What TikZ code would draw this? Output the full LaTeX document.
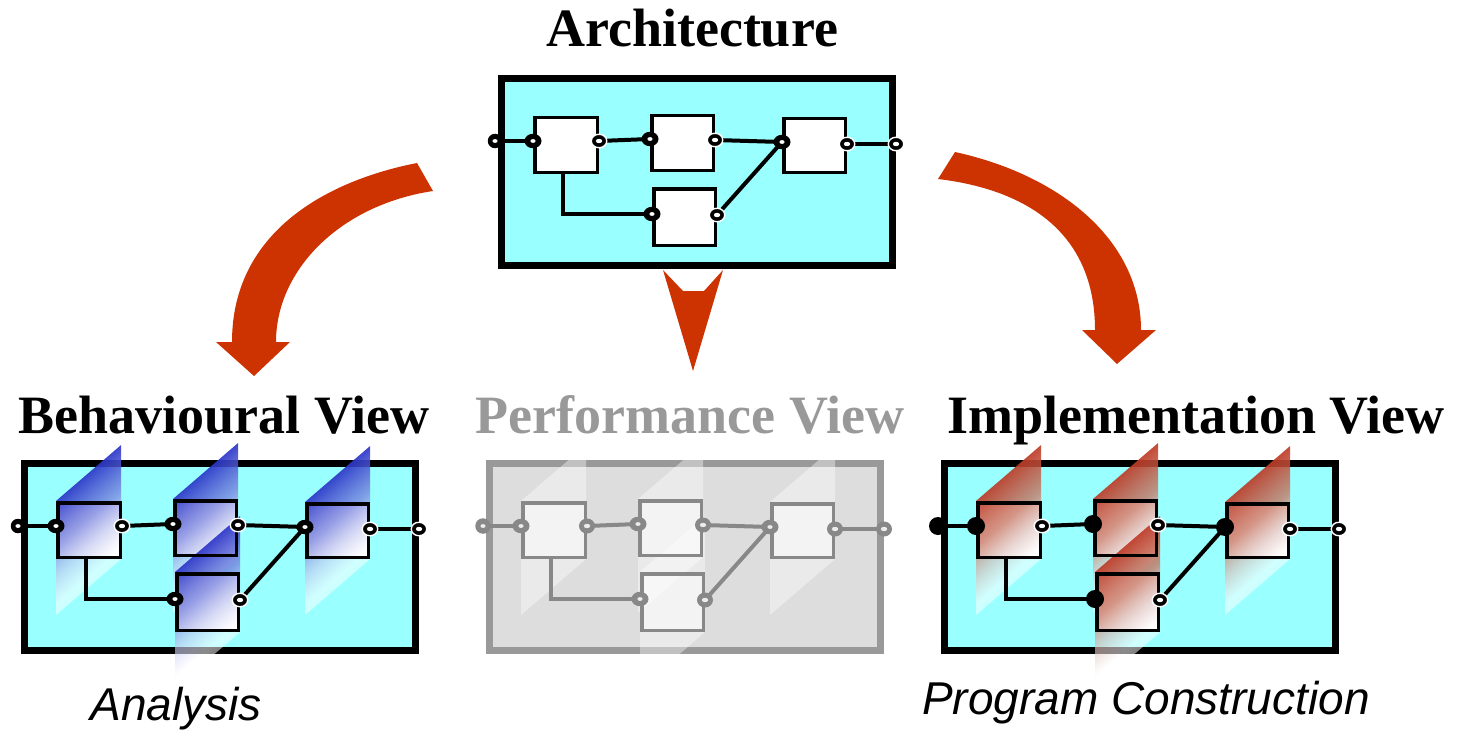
\documentclass[tikz,border=0pt]{standalone}
\usepackage{fontspec}
\setmainfont{Liberation Serif}
\newfontfamily\arialf{Liberation Sans}
\usetikzlibrary{shapes.geometric,fadings}
\pgfdeclarelayer{bg}
\pgfdeclarelayer{planes}
\pgfdeclarelayer{front}
\pgfsetlayers{bg,planes,main,front}
\definecolor{cyanfill}{RGB}{153,255,255}
\definecolor{arrowred}{RGB}{204,51,0}
\definecolor{bluetop}{RGB}{45,55,200}
\definecolor{bluemid}{RGB}{120,130,222}
\definecolor{bluelight}{RGB}{195,200,240}
\definecolor{redtop}{RGB}{190,60,40}
\definecolor{redmid}{RGB}{198,115,95}
\definecolor{redlight}{RGB}{220,190,185}
\definecolor{pgray}{RGB}{153,153,153}
\definecolor{pfill}{RGB}{221,221,221}
\definecolor{pblk}{RGB}{236,236,236}
\definecolor{pport}{RGB}{136,136,136}
\pgfdeclareverticalshading{bplane}{100bp}{color(0bp)=(white); color(30bp)=(white); color(42.5bp)=(bluelight); color(55bp)=(bluemid); color(75bp)=(bluetop); color(100bp)=(bluetop)}
\pgfdeclareverticalshading{rplane}{100bp}{color(0bp)=(white); color(30bp)=(white); color(42.5bp)=(redlight); color(55bp)=(redmid); color(75bp)=(redtop); color(100bp)=(redtop)}
\tikzfading[name=planefade, top color=transparent!8, bottom color=transparent!50]
\def\slk{0.86}
\newcommand\vplane[4]{%
  \pgfmathsetmacro\pyy{#2+\slk*#1}%
  \begin{scope}[transform canvas={yslant=\slk}]
    \shade[overlay,#4] (#1,\pyy) rectangle ++(65,#3);
  \end{scope}}
\newcommand\vplanes[3]{%
  \pgfmathsetmacro\ax{#1+35}\pgfmathsetmacro\ay{#2+41}\vplane{\ax}{\ay}{114}{#3}%
  \pgfmathsetmacro\ax{#1+152}\pgfmathsetmacro\ay{#2+39}\vplane{\ax}{\ay}{114}{#3}%
  \pgfmathsetmacro\ax{#1+284}\pgfmathsetmacro\ay{#2+42}\vplane{\ax}{\ay}{113}{#3}%
  \pgfmathsetmacro\ax{#1+154}\pgfmathsetmacro\ay{#2+112}\vplane{\ax}{\ay}{116}{#3}}
\newcommand\circuit[3]{%
\begin{scope}[shift={(#2,#3)}]
  \node[vframe] (#1box) at (199,97) {};
  \node[blk, minimum width=62.5pt, minimum height=54.5pt] (#1b1) at (68,70) {};
  \node[blk, minimum width=61.5pt, minimum height=54.5pt] (#1b2) at (184.5,68) {};
  \node[blk, minimum width=61.5pt, minimum height=53.5pt] (#1b3) at (316.5,70.5) {};
  \node[blk, minimum width=61.5pt, minimum height=56.5pt] (#1b4) at (186.5,142) {};
  \begin{pgfonlayer}{front}
    \node[pxin] (#1pxi) at (-3,66) {};
    \node[pin]  (#1b1i) at (35,66) {};
    \node[pout] (#1b1o) at (101,66) {};
    \node[pin]  (#1b2i) at (152,64) {};
    \node[pout] (#1b2o) at (217,65) {};
    \node[pin]  (#1b3i) at (284,67) {};
    \node[pout] (#1b3o) at (349,69) {};
    \node[pxout] (#1pxo) at (398,69) {};
    \node[pin]  (#1b4i) at (154,139) {};
    \node[pout] (#1b4o) at (219,140) {};
  \end{pgfonlayer}
  \begin{pgfonlayer}{bg}
    \path[vboxfill] (#1box.north west) rectangle (#1box.south east);
    \path[vboxline] (#1box.north west) rectangle (#1box.south east);
    \foreach \b in {b1,b2,b3,b4} {\path[vblkfill] (#1\b.north west) rectangle (#1\b.south east);}
  \end{pgfonlayer}
  \draw[vwire] (#1pxi.center) -- (#1b1i.center);
  \draw[vwire] (#1b1o.center) -- (#1b2i.center);
  \draw[vwire] (#1b2o.center) -- (#1b3i.center);
  \draw[vwire] (#1b3o.center) -- (#1pxo.center);
  \draw[vwire] (#1b4o.center) -- (#1b3i.center);
  \draw[vwire] ([xshift=-3pt]#1b1.south) |- (#1b4i.center);
\end{scope}}
\tikzset{
  vframe/.style={rectangle, minimum width=391pt, minimum height=187pt, inner sep=0pt, outer sep=0pt},
  blk/.style={rectangle, inner sep=0pt, outer sep=0pt, vblkline},
  vboxline/.style={draw=black, line width=7pt},
  vboxfill/.style={fill=cyanfill},
  vblkline/.style={draw=black, line width=3.5pt},
  vblkfill/.style={fill=white},
  vwire/.style={draw=black, line width=4pt},
  pin/.style={ellipse, fill=black, minimum width=17pt, minimum height=14.5pt, inner sep=0pt,
    path picture={\fill[white] (path picture bounding box.center) ellipse [x radius=2.6pt, y radius=1.9pt];}},
  pout/.style={ellipse, fill=black, draw=white, line width=1.4pt, minimum width=15.5pt, minimum height=13.5pt, inner sep=0pt,
    path picture={\fill[white] (path picture bounding box.center) ellipse [x radius=3.2pt, y radius=2.2pt];}},
  pxin/.style={pin, minimum width=14.5pt, minimum height=14.5pt},
  pxout/.style={pout},
  title/.style={anchor=base, font=\fontsize{54}{60}\selectfont\bfseries},
  note/.style={anchor=base, font=\arialf\itshape\fontsize{46}{50}\selectfont},
  bigarrow/.style={fill=arrowred}
}
\begin{document}
\begin{tikzpicture}[x=1pt,y=-1pt]
\useasboundingbox (0,0) rectangle (1466,733);
% titles
\node[title] (tarch) at (692,47) {Architecture};
\node[title] (tbeh) at (224,433) {Behavioural View};
\node[title, text=pgray] (tperf) at (690,433) {Performance View};
\node[title] (timpl) at (1196,433) {Implementation View};
\node[note] (tana) at (176,720) {Analysis};
\node[note] (tprog) at (1146,714) {Program Construction};
% architecture
\begin{scope}
\circuit{a}{498}{75}
\end{scope}
% behavioural
\begin{scope}
\circuit{b}{21}{460}
\end{scope}
\begin{pgfonlayer}{planes}
\vplanes{21}{460}{shading=bplane, path fading=planefade}
\end{pgfonlayer}
% performance
\begin{scope}
\tikzset{
  vboxline/.style={draw=pgray, line width=7pt},
  vboxfill/.style={fill=pfill},
  vblkline/.style={draw=pport, line width=3.5pt},
  vblkfill/.style={fill=pblk},
  vwire/.style={draw=pport, line width=4pt},
  pin/.style={ellipse, fill=pport, minimum width=17pt, minimum height=14.5pt, inner sep=0pt,
    path picture={\fill[pblk] (path picture bounding box.center) ellipse [x radius=2.6pt, y radius=1.9pt];}},
  pout/.style={ellipse, fill=pport, minimum width=16pt, minimum height=15pt, inner sep=0pt,
    path picture={\fill[pblk] (path picture bounding box.center) ellipse [x radius=3.2pt, y radius=2.2pt];}},
  pxin/.style={pin, minimum width=15.5pt, minimum height=15.5pt},
  pxout/.style={pout}}
\circuit{p}{486}{460}
\end{scope}
\begin{pgfonlayer}{planes}
\vplanes{486}{460}{top color=white, bottom color=white, opacity=0.4}
\end{pgfonlayer}
% implementation
\begin{scope}
\tikzset{
  pin/.style={circle, fill=black, minimum size=18pt, inner sep=0pt},
  pxin/.style={pin}}
\circuit{i}{941}{460}
\end{scope}
\begin{pgfonlayer}{planes}
\vplanes{941}{460}{shading=rplane, path fading=planefade}
\end{pgfonlayer}
% big arrows
\fill[bigarrow] (417,163) .. controls (330,180) and (232,230) .. (232,342) -- (216,342) -- (254,376) -- (290,342) -- (276,342) .. controls (276,270) and (340,205) .. (433,191) -- cycle;
\fill[bigarrow] (955,152) .. controls (1060,175) and (1141,240) .. (1141,330) -- (1156,330) -- (1117,364) -- (1082,330) -- (1095,330) .. controls (1095,235) and (1030,190) .. (938,179) -- cycle;
\fill[bigarrow] (663,270) -- (683,291) -- (704,291) -- (723,270) -- (693,371) -- cycle;
\end{tikzpicture}
\end{document}
